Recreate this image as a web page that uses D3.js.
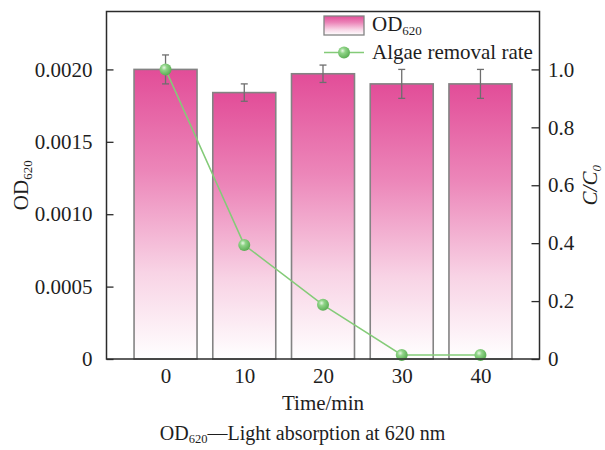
<!DOCTYPE html>
<html>
<head>
<meta charset="utf-8">
<script src="https://cdn.jsdelivr.net/npm/d3@7/dist/d3.min.js"></script>
<style>
  html, body { margin: 0; padding: 0; background: #fff; }
  svg { display: block; }
  svg text { font-family: "Liberation Serif", "Times New Roman", serif; }
</style>
</head>
<body>
<div id="chart"></div>
<script>
// Sampling times (min)
const times = [0, 10, 20, 30, 40];
// OD620 absorbance with standard deviations
const odValues = [0.00200, 0.00184, 0.00197, 0.00190, 0.00190];
const odErrors = [0.00010, 0.00006, 0.00006, 0.00010, 0.00010];
// Relative algae concentration C/C0
const ratioValues = [1.0, 0.394, 0.187, 0.014, 0.014];
// Axis tick labels
const leftTicks = [0, 0.0005, 0.0010, 0.0015, 0.0020];
const leftTickLabels = ["0", "0.0005", "0.0010", "0.0015", "0.0020"];
const rightTicks = [0, 0.2, 0.4, 0.6, 0.8, 1.0];
const rightTickLabels = ["0", "0.2", "0.4", "0.6", "0.8", "1.0"];

const W = 605, H = 450;
const m = { left: 106.5, right: 539.5, top: 11.5, bottom: 359 };
const serif = "'Liberation Serif', 'Times New Roman', serif";

const svg = d3.select("#chart").append("svg")
  .attr("width", W).attr("height", H)
  .attr("font-family", serif);

const defs = svg.append("defs");
const barGrad = defs.append("linearGradient")
  .attr("id", "barGrad").attr("x1", 0).attr("y1", 0).attr("x2", 0).attr("y2", 1);
barGrad.append("stop").attr("offset", "0%").attr("stop-color", "#e24d98");
barGrad.append("stop").attr("offset", "35%").attr("stop-color", "#ec86b9");
barGrad.append("stop").attr("offset", "70%").attr("stop-color", "#f8d3e5");
barGrad.append("stop").attr("offset", "100%").attr("stop-color", "#ffffff");

const dotGrad = defs.append("radialGradient")
  .attr("id", "dotGrad").attr("cx", "38%").attr("cy", "35%").attr("r", "65%");
dotGrad.append("stop").attr("offset", "0%").attr("stop-color", "#e8f7e4");
dotGrad.append("stop").attr("offset", "35%").attr("stop-color", "#8fd487");
dotGrad.append("stop").attr("offset", "100%").attr("stop-color", "#5cae55");

const x = d3.scaleLinear().domain([-7.5, 47.5]).range([m.left, m.right]);
const yL = d3.scaleLinear().domain([0, 0.0024]).range([m.bottom, m.top]);
const yR = d3.scaleLinear().domain([0, 1.2]).range([m.bottom, m.top]);
const barW = 8; // in minutes

// Bars
svg.append("g").selectAll("rect")
  .data(times)
  .join("rect")
  .attr("x", (d) => x(d - barW / 2))
  .attr("width", (d) => x(barW) - x(0))
  .attr("y", (d, i) => yL(odValues[i]))
  .attr("height", (d, i) => yL(0) - yL(odValues[i]))
  .attr("fill", "url(#barGrad)")
  .attr("stroke", "#838383")
  .attr("stroke-width", 1.6);

// Error bars
const eb = svg.append("g").attr("stroke", "#6e6e6e").attr("stroke-width", 1.3);
times.forEach((t, i) => {
  const cx = x(t);
  const y1 = yL(odValues[i] + odErrors[i]);
  const y0 = yL(odValues[i] - odErrors[i]);
  eb.append("line").attr("x1", cx).attr("x2", cx).attr("y1", y1).attr("y2", y0);
  eb.append("line").attr("x1", cx - 3.5).attr("x2", cx + 3.5).attr("y1", y1).attr("y2", y1);
  eb.append("line").attr("x1", cx - 3.5).attr("x2", cx + 3.5).attr("y1", y0).attr("y2", y0);
});

// Removal curve
const line = d3.line().x((d) => x(d[0])).y((d) => yR(d[1]));
svg.append("path")
  .datum(times.map((t, i) => [t, ratioValues[i]]))
  .attr("d", line)
  .attr("fill", "none")
  .attr("stroke", "#84cb78")
  .attr("stroke-width", 1.5);
svg.append("g").selectAll("circle")
  .data(times)
  .join("circle")
  .attr("cx", (d) => x(d))
  .attr("cy", (d, i) => yR(ratioValues[i]))
  .attr("r", 6)
  .attr("fill", "url(#dotGrad)");

// Frame
svg.append("rect")
  .attr("x", m.left).attr("y", m.top)
  .attr("width", m.right - m.left).attr("height", m.bottom - m.top)
  .attr("fill", "none").attr("stroke", "#2b2b2b").attr("stroke-width", 1.5);

const fs = 21;
// Left axis
const gl = svg.append("g").attr("transform", `translate(${m.left},0)`);
gl.call(d3.axisLeft(yL).tickValues(leftTicks)
  .tickFormat((d, i) => leftTickLabels[i]).tickSize(-7).tickPadding(14));
// Right axis
const gr = svg.append("g").attr("transform", `translate(${m.right},0)`);
gr.call(d3.axisRight(yR).tickValues(rightTicks)
  .tickFormat((d, i) => rightTickLabels[i]).tickSize(-8).tickPadding(8.5));
// Bottom axis labels
const gb = svg.append("g").attr("transform", `translate(0,${m.bottom})`);
gb.call(d3.axisBottom(x).tickValues(times).tickFormat(d3.format("d")).tickSize(0).tickPadding(9));

[gl, gr, gb].forEach((g) => {
  g.attr("font-family", serif).attr("font-size", fs);
  g.select(".domain").remove();
  g.selectAll(".tick line").attr("stroke", "#2b2b2b").attr("stroke-width", 1.3);
  g.selectAll(".tick text").attr("fill", "#1e1e1e");
});
gb.selectAll(".tick text").attr("dy", "0.71em");

// Axis titles
svg.append("text")
  .attr("x", (m.left + m.right) / 2).attr("y", 410)
  .attr("text-anchor", "middle").attr("font-size", fs).attr("fill", "#1e1e1e")
  .text("Time/min");

const tl = svg.append("text")
  .attr("transform", `translate(28,${(m.top + m.bottom) / 2}) rotate(-90)`)
  .attr("text-anchor", "middle").attr("font-size", fs).attr("fill", "#1e1e1e");
tl.append("tspan").text("OD");
tl.append("tspan").attr("font-size", 13).attr("dy", 4).text("620");

const tr = svg.append("text")
  .attr("transform", `translate(597,${(m.top + m.bottom) / 2}) rotate(-90)`)
  .attr("text-anchor", "middle").attr("font-size", fs).attr("fill", "#1e1e1e")
  .attr("font-style", "italic");
tr.append("tspan").text("C/C");
tr.append("tspan").attr("font-size", 13).attr("dy", 4).text("0");

// Legend
const lg = svg.append("g");
lg.append("rect").attr("x", 324).attr("y", 16).attr("width", 40).attr("height", 19)
  .attr("fill", "url(#barGrad)").attr("stroke", "#838383").attr("stroke-width", 1.3);
const lt1 = lg.append("text").attr("x", 372).attr("y", 31).attr("font-size", fs).attr("fill", "#1e1e1e");
lt1.append("tspan").text("OD");
lt1.append("tspan").attr("font-size", 13).attr("dy", 4).text("620");
lg.append("line").attr("x1", 324).attr("x2", 364).attr("y1", 52.5).attr("y2", 52.5)
  .attr("stroke", "#84cb78").attr("stroke-width", 1.5);
lg.append("circle").attr("cx", 344).attr("cy", 52.5).attr("r", 6).attr("fill", "url(#dotGrad)");
lg.append("text").attr("x", 372).attr("y", 59).attr("font-size", fs).attr("fill", "#1e1e1e")
  .text("Algae removal rate");

// Caption
const cap = svg.append("text")
  .attr("x", W / 2).attr("y", 440)
  .attr("text-anchor", "middle").attr("font-size", 20).attr("fill", "#1e1e1e");
cap.append("tspan").text("OD");
cap.append("tspan").attr("font-size", 12.5).attr("dy", 3).text("620");
cap.append("tspan").attr("dy", -3).text("\u2014Light absorption at 620 nm");
</script>
</body>
</html>
